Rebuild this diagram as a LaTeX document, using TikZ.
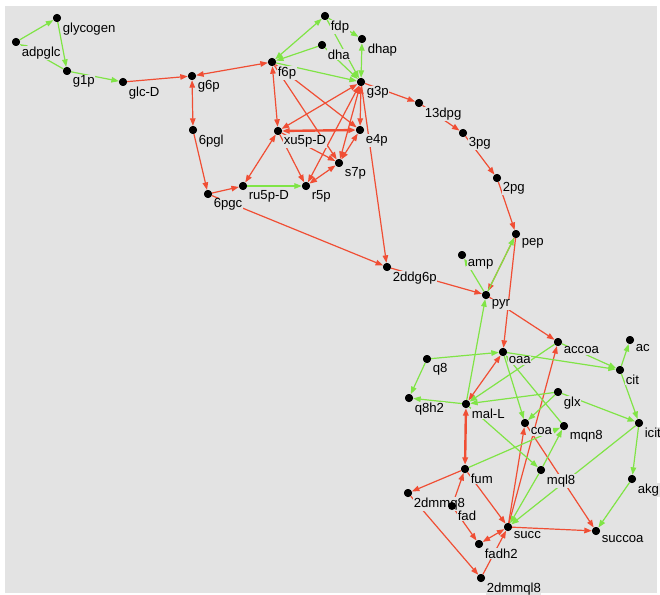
\documentclass[tikz,border=0pt]{standalone}
\usepackage{fontspec}
\setmainfont{Liberation Sans}
\usetikzlibrary{arrows.meta}
\definecolor{bg}{RGB}{227,227,227}
\definecolor{rd}{RGB}{240,78,52}
\definecolor{gr}{RGB}{128,228,70}
\begin{document}
\begin{tikzpicture}[x=1bp,y=-1bp,
  dot/.style={circle,fill=black,inner sep=0pt,minimum size=8bp},
  lab/.style={anchor=north west,inner sep=0.6bp,fill=bg,font=\fontsize{13.2}{15}\selectfont},
  tip/.style={-{Triangle[length=7.5bp,width=5.5bp]}},
  tips/.style={{Triangle[length=7.5bp,width=5.5bp]}-{Triangle[length=7.5bp,width=5.5bp]}},
  ge/.style={draw=gr,line width=1.2bp,tip},
  gee/.style={draw=gr,line width=1.2bp,tips},
  re/.style={draw=rd,line width=1.2bp,tip},
  ree/.style={draw=rd,line width=1.2bp,tips},
  reet/.style={draw=rd,line width=2.4bp,tips}]
\useasboundingbox (0,0) rectangle (660,595);
\fill[bg] (5,6) rectangle (657,593);
% metabolites (dots)
\foreach \n/\x/\y in {glycogen/57/18, adpglc/16/42, g1p/67/71, glcD/123/82, g6p/192/76,
  fdp/325/16, dhap/362/39, dha/322/45, f6p/272/62, g3p/361/82, dpg13/419/103,
  xu5pD/278/131, e4p/360/130, s7p/339/163, r5p/306/186, ru5pD/243/186,
  pgl6/193/130, pgc6/208/194, pg3/463/133, pg2/497/178, pep/516/234, amp/462/255,
  ddg/387/267, pyr/486/295, oaa/503/352, accoa/558/342, ac/630/340, cit/620/370,
  q8/427/359, q8h2/409/398, malL/466/404, glx/558/392, coa/525/423, mqn8/564/426,
  icit/639/423, fum/465/469, mql8/541/470, akg/632/479, dmmq8/408/493, fad/452/506,
  succ/508/527, succoa/596/531, fadh2/479/544, dmmql8/481/578}
  \node[dot] (\n) at (\x,\y) {};
% red reactions
\foreach \a/\b in {glcD/g6p, pgl6/pgc6, pgc6/ru5pD, pgc6/ddg, g3p/ddg, ddg/pyr,
  g3p/dpg13, dpg13/pg3, pg3/pg2, pg2/pep, f6p/e4p, f6p/s7p, xu5pD/s7p, xu5pD/r5p,
  pep/pyr, pep/oaa, pyr/accoa, fum/dmmq8, fad/fum, fum/succ, fad/fadh2,
  dmmq8/dmmql8, dmmql8/succ, succ/coa, succ/accoa, succ/succoa, coa/succoa}
  \path[re] (\a) -- (\b);
\foreach \a/\b in {f6p/g6p, g6p/pgl6, ru5pD/xu5pD, f6p/xu5pD, g3p/xu5pD, g3p/r5p,
  g3p/s7p, g3p/e4p, e4p/s7p, s7p/r5p, oaa/malL, succ/fadh2}
  \path[ree] (\a) -- (\b);
\path[reet] (xu5pD) -- (e4p);
\path[reet] (malL) -- (fum);
% green reactions
\foreach \a/\b in {adpglc/glycogen, glycogen/g1p, g1p/adpglc, g1p/glcD, dha/f6p,
  fdp/dhap, fdp/g3p, dha/g3p, f6p/g3p, ru5pD/r5p, pyr/pep, pyr/amp, malL/pyr,
  q8/oaa, q8/q8h2, malL/q8h2, accoa/malL, glx/malL, accoa/cit, oaa/cit, cit/ac,
  cit/icit, glx/icit, icit/succ, icit/akg, akg/succoa, glx/coa, oaa/coa, mqn8/oaa,
  malL/mql8, fum/mqn8, mql8/mqn8, mql8/succ}
  \path[ge] (\a) -- (\b);
\foreach \a/\b in {fdp/f6p, dhap/g3p}
  \path[gee] (\a) -- (\b);
% labels
\foreach \n/\t in {glycogen/glycogen, adpglc/adpglc, g1p/g1p, glcD/glc-D, g6p/g6p,
  fdp/fdp, dhap/dhap, dha/dha, f6p/f6p, g3p/g3p, dpg13/13dpg, xu5pD/xu5p-D, e4p/e4p,
  s7p/s7p, r5p/r5p, ru5pD/ru5p-D, pgl6/6pgl, pgc6/6pgc, pg3/3pg, pg2/2pg, pep/pep,
  amp/amp, ddg/2ddg6p, pyr/pyr, oaa/oaa, accoa/accoa, ac/ac, cit/cit, q8/q8,
  q8h2/q8h2, malL/mal-L, glx/glx, coa/coa, mqn8/mqn8, icit/icit, fum/fum, mql8/mql8,
  akg/akg, dmmq8/2dmmq8, fad/fad, succ/succ, succoa/succoa, fadh2/fadh2,
  dmmql8/2dmmql8}
  \node[lab] at ([shift={(5,4)}]\n.center) {\t};
% dots on top
\foreach \n in {glycogen, adpglc, g1p, glcD, g6p, fdp, dhap, dha, f6p, g3p, dpg13,
  xu5pD, e4p, s7p, r5p, ru5pD, pgl6, pgc6, pg3, pg2, pep, amp, ddg, pyr, oaa, accoa,
  ac, cit, q8, q8h2, malL, glx, coa, mqn8, icit, fum, mql8, akg, dmmq8, fad, succ,
  succoa, fadh2, dmmql8}
  \fill (\n) circle (4bp);
\end{tikzpicture}
\end{document}
